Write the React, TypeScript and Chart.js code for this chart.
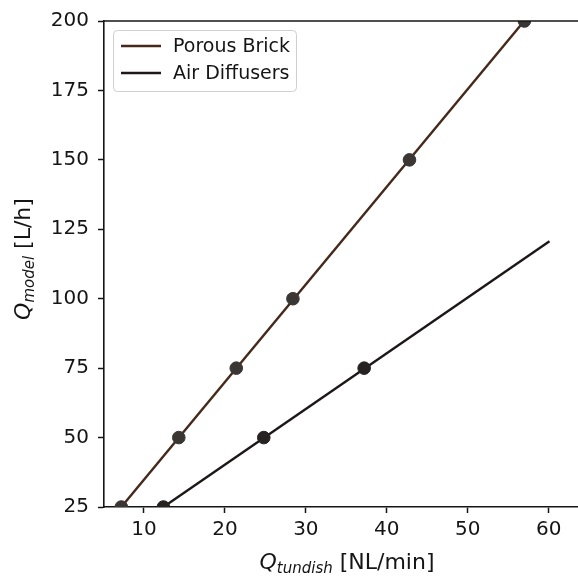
import React, { useEffect, useRef } from "react";
import { Chart, registerables } from "chart.js";

Chart.register(...registerables);

// ---- data ----
const seriesLabels = ["Porous Brick", "Air Diffusers"];
const porousX = [7.2, 14.3, 21.4, 28.4, 42.8, 57.0];
const porousY = [25, 50, 75, 100, 150, 200];
const airX = [12.4, 24.8, 37.2];
const airY = [25, 50, 75];
// fitted lines (drawn without markers)
const porousFitX = [7.2, 60.1];
const porousFitY = [25, 211];
const airFitX = [12.4, 60.1];
const airFitY = [25, 120.7];
const xTicks = [10, 20, 30, 40, 50, 60];
const yTicks = [25, 50, 75, 100, 125, 150, 175, 200];

const lineColors = ["#45291b", "#1d1717"];
const markerColors = ["#3a3634", "#262222"];
const FONT = "DejaVu Sans";
const INK = "#151515";

const toPts = (xs: number[], ys: number[]) => xs.map((x, i) => ({ x, y: ys[i] }));

const decorPlugin = {
  id: "decor",
  afterDraw(chart: any) {
    const { ctx, chartArea } = chart;
    const { left, right, top, bottom } = chartArea;
    ctx.save();
    // top spine
    ctx.strokeStyle = INK;
    ctx.lineWidth = 1.6;
    ctx.beginPath();
    ctx.moveTo(left, top);
    ctx.lineTo(right, top);
    ctx.stroke();

    // legend
    const lx = 113, ly = 30, lw = 183, lh = 61;
    ctx.fillStyle = "rgba(255,255,255,0.85)";
    ctx.strokeStyle = "#cfcfcf";
    ctx.lineWidth = 1;
    ctx.beginPath();
    (ctx as any).roundRect(lx + 0.5, ly + 0.5, lw, lh, 4);
    ctx.fill();
    ctx.stroke();
    ctx.font = `19px ${FONT}`;
    ctx.textBaseline = "middle";
    ctx.textAlign = "left";
    seriesLabels.forEach((lab, i) => {
      const y = ly + 16 + i * 27;
      ctx.strokeStyle = lineColors[i];
      ctx.lineWidth = 2.6;
      ctx.beginPath();
      ctx.moveTo(lx + 8, y);
      ctx.lineTo(lx + 48, y);
      ctx.stroke();
      ctx.fillStyle = INK;
      ctx.fillText(lab, lx + 60, y + 1);
    });

    // axis titles with subscripts
    const drawTitle = (parts: { t: string; f: string; dy: number }[]) => {
      let w = 0;
      parts.forEach((p) => {
        ctx.font = p.f;
        w += ctx.measureText(p.t).width;
      });
      let x = -w / 2;
      parts.forEach((p) => {
        ctx.font = p.f;
        ctx.fillText(p.t, x, p.dy);
        x += ctx.measureText(p.t).width;
      });
    };
    ctx.fillStyle = INK;
    ctx.textBaseline = "alphabetic";
    ctx.textAlign = "left";
    ctx.save();
    ctx.translate(347, 569);
    drawTitle([
      { t: "Q", f: `italic 22px ${FONT}`, dy: 0 },
      { t: "tundish", f: `italic 15px ${FONT}`, dy: 4 },
      { t: " [NL/min]", f: `22px ${FONT}`, dy: 0 },
    ]);
    ctx.restore();
    ctx.save();
    ctx.translate(30, (top + bottom) / 2 - 5);
    ctx.rotate(-Math.PI / 2);
    drawTitle([
      { t: "Q", f: `italic 22px ${FONT}`, dy: 0 },
      { t: "model", f: `italic 15px ${FONT}`, dy: 4 },
      { t: " [L/h]", f: `22px ${FONT}`, dy: 0 },
    ]);
    ctx.restore();
    ctx.restore();
  },
};

export default function App() {
  const ref = useRef<HTMLCanvasElement | null>(null);
  useEffect(() => {
    if (!ref.current) return;
    const chart = new Chart(ref.current, {
      type: "scatter",
      data: {
        datasets: [
          {
            label: seriesLabels[0] + " data",
            data: toPts(porousX, porousY),
            backgroundColor: markerColors[0],
            borderColor: markerColors[0],
            pointRadius: 6.3,
            showLine: false,
            clip: 0,
          } as any,
          {
            label: seriesLabels[1] + " data",
            data: toPts(airX, airY),
            backgroundColor: markerColors[1],
            borderColor: markerColors[1],
            pointRadius: 6.3,
            showLine: false,
            clip: 0,
          } as any,
          {
            label: seriesLabels[0],
            data: toPts(porousFitX, porousFitY),
            borderColor: lineColors[0],
            backgroundColor: lineColors[0],
            borderWidth: 2.4,
            pointRadius: 0,
            showLine: true,
            clip: 0,
          } as any,
          {
            label: seriesLabels[1],
            data: toPts(airFitX, airFitY),
            borderColor: lineColors[1],
            backgroundColor: lineColors[1],
            borderWidth: 2.4,
            pointRadius: 0,
            showLine: true,
            clip: 0,
          } as any,
        ],
      },
      options: {
        animation: false,
        responsive: false,
        devicePixelRatio: 1,
        layout: { padding: { top: 20, right: 3, left: 0, bottom: 0 } },
        plugins: { legend: { display: false }, tooltip: { enabled: false } },
        scales: {
          x: {
            type: "linear",
            min: 5.06,
            max: 72.85,
            afterBuildTicks: (s: any) => {
              s.ticks = xTicks.map((v) => ({ value: v }));
            },
            afterFit: (s: any) => {
              s.height = 69;
            },
            grid: { drawOnChartArea: false, drawTicks: true, tickLength: 6, tickColor: INK, tickWidth: 1.5 },
            border: { display: true, color: INK, width: 1.6 },
            ticks: { color: INK, font: { family: FONT, size: 20 }, padding: 5, maxRotation: 0, autoSkip: false },
          },
          y: {
            type: "linear",
            min: 25,
            max: 200,
            afterBuildTicks: (s: any) => {
              s.ticks = yTicks.map((v) => ({ value: v }));
            },
            afterFit: (s: any) => {
              s.width = 104;
            },
            grid: { drawOnChartArea: false, drawTicks: true, tickLength: 6, tickColor: INK, tickWidth: 1.5 },
            border: { display: true, color: INK, width: 1.6 },
            ticks: { color: INK, font: { family: FONT, size: 20 }, padding: 9, autoSkip: false },
          },
        },
      },
      plugins: [decorPlugin],
    } as any);
    return () => chart.destroy();
  }, []);
  return (
    <div style={{ position: "fixed", left: 0, top: 0, width: 660, height: 576, background: "#fff" }}>
      <canvas ref={ref} width={660} height={576} style={{ width: 660, height: 576, display: "block" }} />
    </div>
  );
}
